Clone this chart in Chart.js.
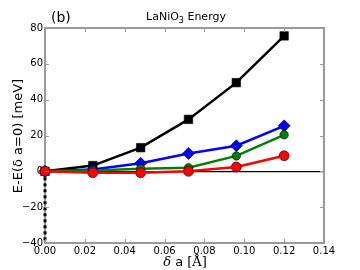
<!DOCTYPE html>
<html>
<head>
<meta charset="utf-8">
<script src="https://cdn.jsdelivr.net/npm/chart.js@4/dist/chart.umd.min.js"></script>
<style>
  html, body { margin: 0; padding: 0; background: #fff; }
  #wrap { width: 360px; height: 270px; position: relative; }
</style>
</head>
<body>
<div id="wrap"><canvas id="c" width="360" height="270"></canvas></div>
<script>
// strain values (δ a, Å)
const deltaA = [0, 0.024, 0.048, 0.072, 0.096, 0.12];

// energy series (meV)
const blackSquares = [0, 3.2, 13.2, 29, 49.5, 75.6];
const blueDiamonds = [0, 1, 4.5, 10, 14.3, 25.4];
const greenCircles = [0, 0.5, 1.5, 2, 8.6, 20.4];
const redCircles   = [0, -0.8, -0.8, 0, 2.4, 8.7];

// dotted guide at δa = 0
const guideX = [0, 0];
const guideY = [0, -40];

const xTicks = [0, 0.02, 0.04, 0.06, 0.08, 0.10, 0.12, 0.14];
const yTicks = [-40, -20, 0, 20, 40, 60, 80];

const FONT = '"DejaVu Sans", sans-serif';
const SERIF = '"DejaVu Serif", serif';
const AXIS_GRAY = '#9a9a9a';

const pts = ys => deltaA.map((x, i) => ({ x, y: ys[i] }));

const series = (label, ys, color, style, radius) => ({
  label,
  data: pts(ys),
  borderColor: color,
  backgroundColor: color,
  borderWidth: 2.5,
  pointStyle: style,
  pointRadius: radius,
  pointBorderColor: '#000',
  pointBorderWidth: 0.6,
  tension: 0,
  clip: false,
});

// titles, panel tag and inner tick marks
const decor = {
  id: 'decor',
  afterDraw(chart) {
    const { ctx, chartArea: a, scales } = chart;
    ctx.save();
    ctx.strokeStyle = AXIS_GRAY;
    ctx.lineWidth = 1;
    xTicks.forEach(v => {
      const px = Math.round(scales.x.getPixelForValue(v)) + 0.5;
      ctx.beginPath();
      ctx.moveTo(px, a.top); ctx.lineTo(px, a.top + 4);
      ctx.moveTo(px, a.bottom); ctx.lineTo(px, a.bottom - 4);
      ctx.stroke();
    });
    yTicks.forEach(v => {
      const py = Math.round(scales.y.getPixelForValue(v)) + 0.5;
      ctx.beginPath();
      ctx.moveTo(a.left, py); ctx.lineTo(a.left + 4, py);
      ctx.moveTo(a.right, py); ctx.lineTo(a.right - 4, py);
      ctx.stroke();
    });

    ctx.fillStyle = '#000';
    ctx.textBaseline = 'alphabetic';
    ctx.font = '14px ' + FONT;
    ctx.textAlign = 'left';
    ctx.fillText('(b)', 51, 22);

    // LaNiO3 Energy with subscript
    const t1 = 'LaNiO', t2 = '3', t3 = ' Energy';
    ctx.font = '11px ' + FONT; const w1 = ctx.measureText(t1).width;
    ctx.font = '8px ' + FONT;  const w2 = ctx.measureText(t2).width;
    ctx.font = '11px ' + FONT; const w3 = ctx.measureText(t3).width;
    const x0 = 186 - (w1 + w2 + w3) / 2;
    ctx.fillText(t1, x0, 20);
    ctx.font = '8px ' + FONT; ctx.fillText(t2, x0 + w1, 23);
    ctx.font = '11px ' + FONT; ctx.fillText(t3, x0 + w1 + w2, 20);

    // x label: italic serif delta, sans "a", serif [Å]
    const p1 = 'δ', p2 = ' a ', p3 = '[Å]';
    ctx.font = 'italic 13px ' + SERIF; const q1 = ctx.measureText(p1).width;
    ctx.font = '13px ' + FONT; const q2 = ctx.measureText(p2).width;
    ctx.font = '13px ' + SERIF; const q3 = ctx.measureText(p3).width;
    let xs = 185 - (q1 + q2 + q3) / 2;
    ctx.font = 'italic 13px ' + SERIF; ctx.fillText(p1, xs, 266); xs += q1;
    ctx.font = '13px ' + FONT; ctx.fillText(p2, xs, 266); xs += q2;
    ctx.font = '13px ' + SERIF; ctx.fillText(p3, xs, 266);

    // y label
    ctx.font = '13px ' + FONT;
    ctx.textAlign = 'center';
    ctx.translate(17, 136);
    ctx.rotate(-Math.PI / 2);
    ctx.fillText('E-E(δ a=0) [meV]', 0, 5);
    ctx.restore();
  }
};

new Chart(document.getElementById('c'), {
  type: 'line',
  data: {
    datasets: [
      series('red', redCircles, '#ff0000', 'circle', 5),
      series('green', greenCircles, '#008000', 'circle', 4.2),
      series('blue', blueDiamonds, '#0000ff', 'rectRot', 6),
      series('black', blackSquares, '#000000', 'rect', 6),
      {
        label: 'guide',
        data: guideX.map((x, i) => ({ x, y: guideY[i] })),
        borderColor: '#000',
        borderWidth: 3,
        borderDash: [3, 3],
        pointRadius: 0,
        clip: false,
      },
    ],
  },
  options: {
    responsive: false,
    animation: false,
    layout: { padding: { top: 28, right: 36, left: 0, bottom: 0 } },
    plugins: { legend: { display: false }, tooltip: { enabled: false } },
    scales: {
      x: {
        type: 'linear',
        min: 0, max: 0.14,
        afterBuildTicks: s => { s.ticks = xTicks.map(v => ({ value: v })); },
        afterFit: s => { s.height = 27; },
        grid: { display: false, drawTicks: false },
        border: { color: AXIS_GRAY, width: 2 },
        ticks: {
          padding: 2,
          color: '#000',
          font: { family: FONT, size: 10 },
          callback: v => v.toFixed(2),
        },
      },
      y: {
        type: 'linear',
        min: -40, max: 80,
        afterBuildTicks: s => { s.ticks = yTicks.map(v => ({ value: v })); },
        afterFit: s => { s.width = 45; },
        grid: {
          drawTicks: false,
          color: c => (c.tick && c.tick.value === 0 ? '#000' : 'rgba(0,0,0,0)'),
          lineWidth: 1.2,
        },
        border: { color: AXIS_GRAY, width: 2 },
        ticks: {
          padding: 2,
          color: '#000',
          font: { family: FONT, size: 10 },
          callback: v => (v < 0 ? '\u2212' + Math.abs(v) : String(v)),
        },
      },
    },
  },
  plugins: [decor, {
    id: 'frame',
    afterDraw(chart) {
      const { ctx, chartArea: a } = chart;
      ctx.save();
      ctx.strokeStyle = AXIS_GRAY;
      ctx.lineWidth = 2;
      ctx.beginPath();
      ctx.moveTo(a.left, a.top); ctx.lineTo(a.right, a.top); ctx.lineTo(a.right, a.bottom);
      ctx.stroke();
      ctx.restore();
    }
  }],
});
</script>
</body>
</html>
